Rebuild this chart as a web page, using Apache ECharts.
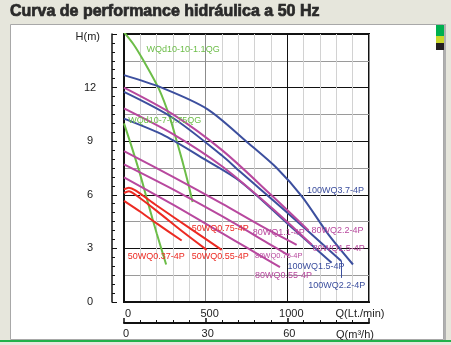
<!DOCTYPE html>
<html><head><meta charset="utf-8">
<script src="https://cdn.jsdelivr.net/npm/echarts@6/dist/echarts.min.js"></script>
<style>html,body{margin:0;padding:0;background:#e6e6dc;}#c{width:451px;height:345px;}</style>
</head><body><div id="c"></div>
<script>
// ---- data (Q in L/min, H in m) ----
const titleText = 'Curva de performance hidráulica a 50 Hz';
const qLpmTicks = [0, 500, 1000];
const qM3hTicks = [0, 30, 60];
const hTicks = [0, 3, 6, 9, 12];
const names = ['WQd10-10-1.1QG','WQd10-7-0.75QG','100WQ3.7-4P','100WQ2.2-4P','100WQ1.5-4P',
  '80WQ2.2-4P','80WQ1.5-4P','80WQ1.1-4P','80WQ0.75-4P','80WQ0.55-4P','50WQ0.75-4P','50WQ0.55-4P','50WQ0.37-4P'];
const g11  = [[0,15.1],[60,14.4],[120,13.5],[215,11.9],[280,10.35],[320,9.1],[360,7.8],[390,6.75],[420,5.6]];
const g075 = [[0,10.0],[50,8.6],[100,7.1],[150,5.45],[200,3.85],[258,2.1]];
const b37  = [[0,12.7],[230,12.0],[510,10.8],[760,8.9],[935,7.5],[1090,5.9],[1250,3.8],[1402,2.1]];
const b22  = [[0,11.76],[300,10.3],[600,8.2],[710,7.3],[1000,5.0],[1330,2.3]];
const b15  = [[0,10.26],[250,9.3],[500,7.95],[710,6.76],[1000,4.4],[1271,2.2]];
const p22  = [[0,12.0],[300,10.5],[600,8.5],[900,6.0],[1130,4.0]];
const p15  = [[0,10.84],[300,9.4],[600,7.6],[900,5.3],[1150,3.2]];
const p11  = [[0,8.44],[300,7.0],[600,5.5],[850,4.2],[1057,3.2]];
const p075 = [[0,7.7],[300,6.3],[600,4.8],[880,3.3],[1010,2.6]];
const p055 = [[0,6.98],[300,5.45],[600,3.85],[760,3.0],[955,1.95]];
const r075 = [[0,6.3],[30,6.4],[70,6.25],[200,5.4],[400,4.15],[598,2.92]];
const r055 = [[0,6.1],[30,6.2],[70,6.0],[200,5.1],[350,4.0],[506,2.92]];
const r037 = [[0,5.66],[100,5.05],[200,4.4],[353,3.44]];
const curves = [g11,g075,b37,b22,b15,p22,p15,p11,p075,p055,r075,r055,r037];

// ---- styles ----
const GREEN='#6cbd48', BLUE='#3c4f9e', PINK='#b8489e', RED='#ec2a22';
const FONT='Liberation Sans, Arial, sans-serif';
const colors=[GREEN,GREEN,BLUE,BLUE,BLUE,PINK,PINK,PINK,PINK,PINK,RED,RED,RED];
const offsets=[[-46,-152],[-38,-144],[-46,-74],[-33,25],[-44,4],[3,0],[1,4],[-44,-12],[-34,0],[-25,8],[-30,-21],[-15,7],[-54,16]];
const fsizes=[9,9,9,9,9,9,9,9,7.5,9,9,9,9];

const series = curves.map((d,i)=>{
  const s = {
    name: names[i], type:'line', data:d, smooth:0.3, showSymbol:false, silent:true,
    xAxisIndex:0, yAxisIndex:0, color:colors[i],
    lineStyle:{width:2,color:colors[i]},
    endLabel:{show:true, formatter:names[i], color:colors[i], fontSize:fsizes[i],
      fontFamily:FONT, align:'left', verticalAlign:'middle', distance:0, offset:offsets[i]},
    z: 3
  };
  if (names[i]==='100WQ2.2-4P'){
    const e=d[d.length-1];
    s.markLine={silent:true, symbol:'none', label:{show:false}, lineStyle:{color:BLUE,width:1,type:'solid'},
      data:[[{coord:[e[0],e[1]]},{coord:[e[0],e[1]-0.95]}]], animation:false};
  }
  return s;
});

const chart = echarts.init(document.getElementById('c'), null, {renderer:'canvas'});
const lab = {color:'#222', fontSize:11, fontFamily:FONT};
chart.setOption({
  animation:false,
  backgroundColor:'#e6e6dc',
  title:{text:titleText, left:10, top:4, padding:0,
    textStyle:{fontSize:16, fontWeight:'bold', color:'#2a2a2a', fontFamily:FONT, textBorderColor:'#2a2a2a', textBorderWidth:0.7}},
  graphic:[
    {type:'rect', shape:{x:10.5,y:24.5,width:433,height:315}, style:{fill:'#fff', stroke:'#a8a8a8', lineWidth:1}, z:-10},
    {type:'rect', shape:{x:444,y:24,width:2,height:316}, style:{fill:'#b0b0b0'}, z:-9},
    {type:'rect', shape:{x:0,y:340,width:451,height:2}, style:{fill:'#21b14b'}, z:-9},
    {type:'rect', shape:{x:436,y:25,width:8,height:11}, style:{fill:'#00b04f'}, z:-8},
    {type:'rect', shape:{x:436,y:36,width:8,height:7}, style:{fill:'#c9d72a'}, z:-8},
    {type:'rect', shape:{x:436,y:43,width:8,height:7}, style:{fill:'#231f20'}, z:-8}
  ],
  grid:[
    {left:124, right:82, top:34, bottom:43, show:true, borderColor:'#111', borderWidth:2, backgroundColor:'transparent'},
    {left:124, right:82, top:322, height:1, show:false},
    {left:124, right:82, top:301, height:1, show:false}
  ],
  xAxis:[
    {type:'value', gridIndex:0, min:0, max:1500, interval:100, position:'bottom',
     axisLine:{show:true, lineStyle:{color:'#111', width:2}}, axisTick:{show:false}, axisLabel:{show:false},
     splitLine:{show:true, lineStyle:{width:1, color:['#111','#d2d2d2','#d2d2d2','#d2d2d2','#d2d2d2','#8c8c8c','#d2d2d2','#d2d2d2','#d2d2d2','#d2d2d2']}}},
    {type:'value', gridIndex:1, min:0, max:90, interval:30, position:'bottom',
     axisLine:{show:true, onZero:false, lineStyle:{color:'#111', width:2}},
     axisTick:{show:true, inside:true, length:5, lineStyle:{color:'#111', width:1.5}},
     minorTick:{show:true, splitNumber:5, length:3, lineStyle:{color:'#111', width:1}},
     axisLabel:Object.assign({margin:5, padding:[0,0,0,4], showMinLabel:true,
       formatter:v=>qM3hTicks.indexOf(v)>=0?String(v):''}, lab),
     splitLine:{show:false},
     name:'Q(m³/h)', nameLocation:'end', nameGap:-14,
     nameTextStyle:Object.assign({align:'center', verticalAlign:'top', padding:[6,0,0,0]}, lab)},
    {type:'value', gridIndex:2, min:0, max:1500, interval:500, position:'bottom',
     axisLine:{show:false, onZero:false}, axisTick:{show:false}, splitLine:{show:false},
     axisLabel:Object.assign({margin:6, padding:[0,0,0,8], showMinLabel:true,
       formatter:v=>qLpmTicks.indexOf(v)>=0?String(v):''}, lab),
     name:'Q(Lt./min)', nameLocation:'end', nameGap:-9,
     nameTextStyle:Object.assign({align:'center', verticalAlign:'top', padding:[6,0,0,0]}, lab)}
  ],
  yAxis:[
    {type:'value', gridIndex:0, min:0, max:15, interval:1.5, position:'left',
     axisLine:{show:true, lineStyle:{color:'#111', width:2}}, axisTick:{show:false}, axisLabel:{show:false},
     splitLine:{show:true, lineStyle:{width:1.2, color:['#111','#9a9a9a']}}},
    {type:'value', gridIndex:0, min:0, max:15, interval:3, position:'left', offset:12,
     axisLine:{show:true, lineStyle:{color:'#111', width:1.5}},
     axisTick:{show:true, inside:true, length:5, lineStyle:{color:'#111', width:1}},
     minorTick:{show:true, splitNumber:6, length:3, lineStyle:{color:'#111', width:1}},
     axisLabel:Object.assign({margin:22, align:'center', showMinLabel:true,
       formatter:v=>hTicks.indexOf(v)>=0?String(v):''}, lab),
     splitLine:{show:false},
     name:'H(m)', nameLocation:'end', nameGap:-3,
     nameTextStyle:Object.assign({align:'right', verticalAlign:'middle', padding:[0,12,0,0]}, lab)},
    {type:'value', gridIndex:1, min:0, max:1, show:false},
    {type:'value', gridIndex:2, min:0, max:1, show:false}
  ],
  series:series
});
</script></body></html>
